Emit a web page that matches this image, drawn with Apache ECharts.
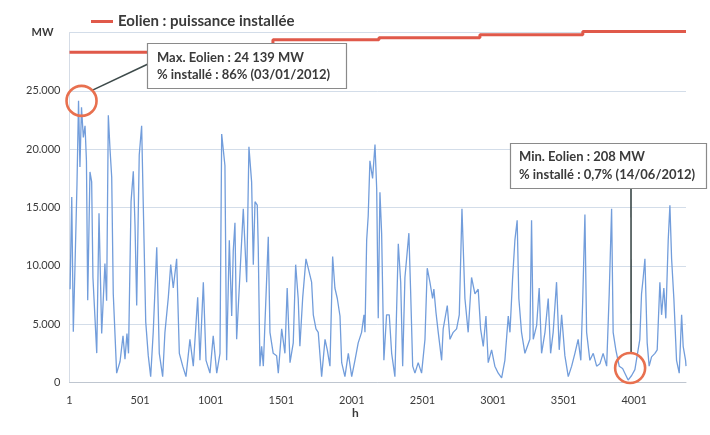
<!DOCTYPE html>
<html><head><meta charset="utf-8">
<script src="https://cdn.jsdelivr.net/npm/echarts@6/dist/echarts.min.js"></script>
<style>html,body{margin:0;padding:0;background:#fff}#c{width:710px;height:435px}</style>
</head><body><div id="c"></div>
<script>
const hours = [5,17,28,40,54,65,75,86,99,111,121,130,146,158,167,194,210,229,252,264,276,288,300,311,335,359,380,394,408,419,437,453,465,477,495,512,524,541,559,576,594,619,637,661,677,701,718,736,760,779,803,826,854,878,909,925,949,968,996,1019,1044,1067,1079,1102,1114,1133,1150,1161,1173,1185,1232,1256,1272,1291,1303,1315,1331,1338,1350,1362,1374,1409,1421,1444,1468,1480,1504,1527,1543,1563,1586,1603,1621,1633,1653,1676,1692,1716,1728,1747,1763,1787,1811,1827,1846,1865,1881,1898,1917,1929,1952,1976,2000,2023,2046,2070,2087,2094,2106,2117,2129,2148,2165,2177,2188,2200,2212,2228,2247,2266,2283,2306,2330,2347,2361,2377,2405,2417,2432,2448,2471,2495,2519,2535,2554,2573,2582,2597,2613,2637,2648,2677,2696,2719,2743,2762,2781,2802,2825,2849,2873,2896,2913,2932,2951,2967,2991,3014,3038,3062,3085,3109,3121,3140,3156,3172,3184,3203,3227,3262,3274,3286,3310,3328,3345,3369,3392,3409,3427,3451,3470,3487,3510,3534,3558,3581,3604,3623,3636,3652,3664,3687,3711,3735,3758,3781,3806,3824,3841,3852,3871,3895,3919,3935,3958,3983,4006,4022,4041,4053,4065,4077,4093,4107,4124,4148,4164,4183,4195,4211,4225,4242,4254,4266,4282,4301,4320,4337,4348,4365,4368];
// Wind output (MW) at those hours
const windMW = [8000,15900,4350,10000,17000,24139,18470,23600,21000,22000,19000,7060,18050,17200,9000,2520,14500,4200,10200,7000,22900,20000,17600,7600,800,1800,4000,2000,4200,2500,15500,18100,13500,6600,19500,22000,15000,5200,2300,500,4300,11600,2500,500,4300,7300,10100,8100,10600,2500,1400,500,3700,1400,7300,1900,8600,1900,800,4000,800,2500,21300,18600,1900,12200,5700,11300,13700,3700,14900,8600,20200,17200,10100,15500,15200,11600,1400,3100,1400,12500,4300,2500,2300,800,4600,2500,8100,1700,3400,10100,7200,3100,7300,10600,9800,8600,5800,4600,4300,500,3700,2800,1400,10800,8100,7200,5700,1700,500,2500,500,1900,3400,4300,5800,4300,12200,14300,19000,17500,20400,16600,5500,16300,12800,1900,5800,5800,2500,500,11900,8600,1400,9000,12800,8000,1400,800,1700,800,3700,9800,8600,7200,8000,6000,4300,1900,4600,6600,3700,4300,4600,5800,14900,7200,4300,9000,7600,8000,4600,3100,5700,1700,2800,1400,800,400,1900,5700,4300,9000,12200,13900,7200,4300,2500,3700,13900,3700,4900,8100,2500,4300,7200,2500,4300,8600,2800,5800,2300,500,1400,2500,3700,1900,6900,14400,4300,1900,2500,1400,1600,2500,1400,7600,14900,4300,2800,1400,1200,800,208,600,1100,2300,3700,7600,9000,10600,3400,1400,2200,2500,2800,8600,5800,8100,5500,12200,15200,10600,7200,1900,800,5800,3100,1900,1400];
// Installed wind capacity (MW), step changes
const capHours = [1,1442,2193,2908,3637,4368];
const capMW = [28300,29380,29560,29810,30090,30090];
const xTickLabels = ['1','501','1001','1501','2001','2501','3001','3501','4001'];
const yTickLabels = ['0','5.000','10.000','15.000','20.000','25.000','MW'];
const capName = 'Eolien : puissance installée';

const FONT = 'Lato, "Open Sans", sans-serif';
const chart = echarts.init(document.getElementById('c'), null, {renderer:'canvas'});

const windData = hours.map((h,i)=>[h-1, windMW[i]]);
const capData = capHours.map((h,i)=>[h-1, capMW[i]]);

chart.setOption({
  animation:false,
  backgroundColor:'#fff',
  textStyle:{fontFamily:FONT},
  grid:{left:69.5, right:24, top:32.5, bottom:52.5, containLabel:false},
  legend:{
    left:86, top:9, itemWidth:22, itemHeight:3, itemGap:10,
    data:[{name:capName, icon:'rect'}],
    textStyle:{fontFamily:FONT, fontSize:15, fontWeight:'bold', color:'#3a3a3a'}
  },
  xAxis:{
    type:'value', min:0, max:4367, interval:500,
    axisLine:{show:true, lineStyle:{color:'#bfc6d0', width:1}},
    axisTick:{show:false},
    splitLine:{show:false},
    axisLabel:{
      color:'#3a3a3a', fontSize:11, margin:12, fontFamily:FONT,
      showMaxLabel:false,
      formatter:v=>xTickLabels[Math.round(v/500)] || ''
    }
  },
  yAxis:{
    type:'value', min:0, max:30000, interval:5000,
    axisLine:{show:true, lineStyle:{color:'#d5dce6'}},
    axisTick:{show:false},
    splitLine:{show:true, lineStyle:{color:'#d3dde9', width:1}},
    axisLabel:{
      color:'#3a3a3a', fontSize:11, margin:9, fontFamily:FONT,
      formatter:v=>{const t=yTickLabels[Math.round(v/5000)]; return t==='MW'?'{mw|MW}':t;},
      rich:{mw:{fontWeight:'bold', fontSize:11, color:'#3a3a3a', fontFamily:FONT, padding:[0,7,0,0]}}
    }
  },
  series:[
    {
      name:'Eolien', type:'line', data:windData, showSymbol:false, symbol:'none',
      lineStyle:{color:'#729ddb', width:1.3}, z:2
    },
    {
      name:capName, type:'line', data:capData, step:'end', showSymbol:false, symbol:'none',
      clip:false, itemStyle:{color:'#e0594a'},
      lineStyle:{color:'#e0594a', width:3}, z:3
    }
  ]
});

// Annotations
const iMax = windMW.indexOf(Math.max(...windMW));
const iMin = windMW.indexOf(Math.min(...windMW));
const pMax = chart.convertToPixel({gridIndex:0}, windData[iMax]);
const pMin = chart.convertToPixel({gridIndex:0}, windData[iMin]);
const c1 = [pMax[0]+3, pMax[1]];
const c2 = [pMin[0]+2, pMin[1]-12];
const R = 15;
const txtStyle = {fontFamily:FONT, fontSize:13, fontWeight:'bold', fill:'#3a3a3a'};

chart.setOption({
  graphic:[
    {type:'line', shape:{x1:148, y1:64, x2:c1[0]+R*0.7, y2:c1[1]-R*0.7}, style:{stroke:'#3d4a4a', lineWidth:1.6}, z:10},
    {type:'rect', shape:{x:147.5, y:43.5, width:199, height:45}, style:{fill:'#fff', stroke:'#8a8a8a', lineWidth:1.2}, z:11},
    {type:'text', x:157, y:51, style:Object.assign({text:'Max. Eolien : 24 139 MW'}, txtStyle), z:12},
    {type:'text', x:157, y:68, style:Object.assign({text:'% installé : 86% (03/01/2012)'}, txtStyle), z:12},
    {type:'circle', shape:{cx:c1[0], cy:c1[1], r:R}, style:{fill:'none', stroke:'#e8704f', lineWidth:2.6}, z:13},

    {type:'line', shape:{x1:631, y1:188, x2:c2[0]+1, y2:c2[1]-R}, style:{stroke:'#3d4a4a', lineWidth:1.6}, z:10},
    {type:'rect', shape:{x:510.5, y:143.5, width:196, height:45}, style:{fill:'#fff', stroke:'#8a8a8a', lineWidth:1.2}, z:11},
    {type:'text', x:519, y:150, style:Object.assign({text:'Min. Eolien : 208 MW'}, txtStyle), z:12},
    {type:'text', x:519, y:168, style:Object.assign({text:'% installé : 0,7% (14/06/2012)'}, txtStyle), z:12},
    {type:'circle', shape:{cx:c2[0], cy:c2[1], r:R}, style:{fill:'none', stroke:'#e8704f', lineWidth:2.6}, z:13},

    {type:'text', x:352, y:407, style:{text:'h', fontFamily:FONT, fontSize:12, fontWeight:'bold', fill:'#3a3a3a'}, z:12}
  ]
});
</script>
</body></html>
